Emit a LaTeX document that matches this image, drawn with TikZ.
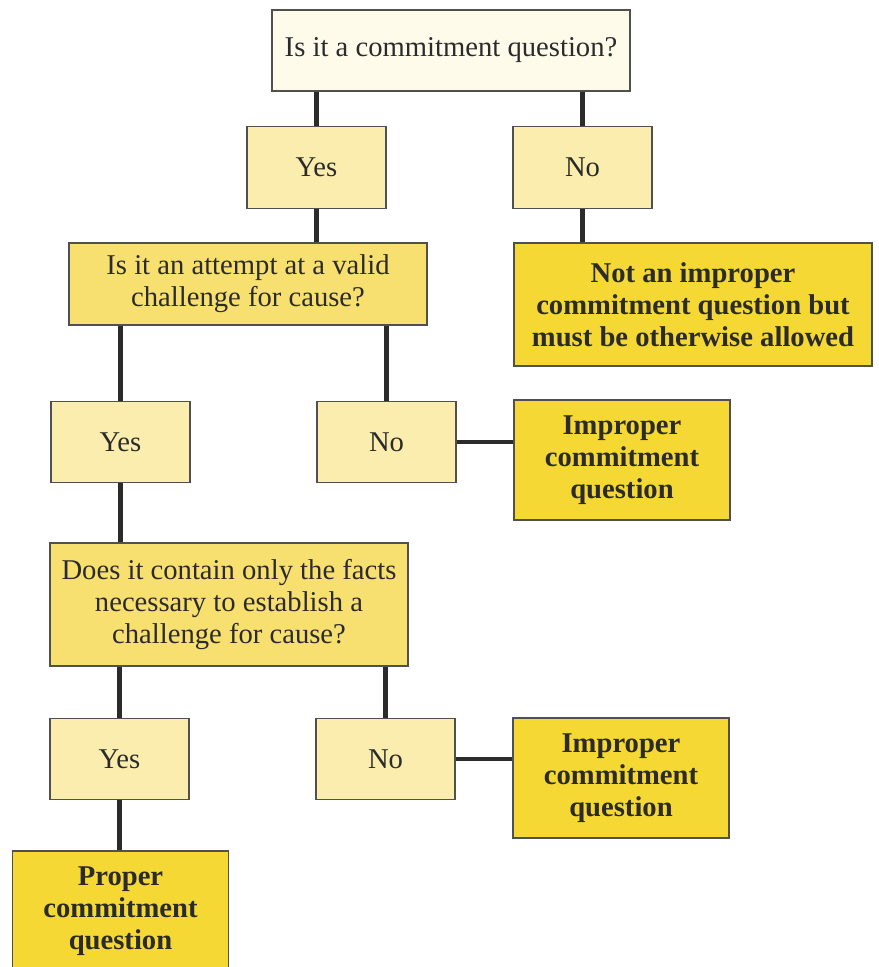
\documentclass[tikz,border=0pt]{standalone}
\usepackage{fontspec}
\setmainfont{Liberation Serif}
\definecolor{ink}{RGB}{43, 43, 43}
\definecolor{frame}{RGB}{80, 80, 80}
\definecolor{cream}{RGB}{255, 251, 234}
\definecolor{pale}{RGB}{251, 237, 173}
\definecolor{quest}{RGB}{248, 224, 112}
\definecolor{verdict}{RGB}{245, 216, 51}
\usetikzlibrary{positioning, calc}

\begin{document}
\begin{tikzpicture}[
        every node/.style={font=\fontsize{16.3}{18.2}\selectfont, text=ink, align=center},
        box/.style={rectangle, draw=frame, line width=0.7pt, inner sep=2pt},
        start/.style={box, fill=cream, minimum width=7.16cm, minimum height=1.62cm},
        answer/.style={box, fill=pale, minimum width=2.78cm, minimum height=1.63cm},
        ask/.style={box, fill=quest, minimum width=7.16cm},
        verdict/.style={box, fill=verdict, minimum width=4.32cm, minimum height=2.4cm, font=\fontsize{16.3}{18.2}\selectfont\bfseries},
        link/.style={line width=2.8pt, draw=ink}
    ]
        \useasboundingbox (0,0) rectangle (17.58,-19.34);
        \clip (0,0) rectangle (17.58,-19.34);

        \node[start]  (top)  at (9.02, -1.01)  {Is it a commitment question?};
        \node[answer] (yesA) at (6.33, -3.35)  {Yes};
        \node[answer] (noA)  at (11.65, -3.35) {No};

        \node[ask, minimum height=1.64cm] (askB) at (4.96, -5.68) {Is it an attempt at a valid\\ challenge for cause?};
        \node[verdict, minimum width=7.16cm, minimum height=2.46cm] (endA) at (13.86, -6.09) {Not an improper\\ commitment question but\\ must be otherwise allowed};

        \node[answer]  (yesB) at (2.41, -8.84)  {Yes};
        \node[answer]  (noB)  at (7.73, -8.84)  {No};
        \node[verdict] (endB) at (12.44, -9.20) {Improper\\ commitment\\ question};

        \node[ask, minimum height=2.46cm] (askC) at (4.58, -12.09) {Does it contain only the facts\\ necessary to establish a\\ challenge for cause?};

        \node[answer]  (yesC) at (2.39, -15.18) {Yes};
        \node[answer]  (noC)  at (7.71, -15.18) {No};
        \node[verdict] (endC) at (12.42, -15.56) {Improper\\ commitment\\ question};

        \node[verdict] (endD) at (2.41, -18.22) {Proper\\ commitment\\ question};

        \draw[link] (yesA.north) -- (yesA.north |- top.south);
        \draw[link] (noA.north)  -- (noA.north |- top.south);
        \draw[link] (yesA.south) -- (yesA.south |- askB.north);
        \draw[link] (noA.south)  -- (noA.south |- endA.north);
        \draw[link] (yesB.north) -- (yesB.north |- askB.south);
        \draw[link] (noB.north)  -- (noB.north |- askB.south);
        \draw[link] (noB.east)   -- (noB.east -| endB.west);
        \draw[link] (yesB.south) -- (yesB.south |- askC.north);
        \draw[link] (yesC.north) -- (yesC.north |- askC.south);
        \draw[link] (noC.north)  -- (noC.north |- askC.south);
        \draw[link] (noC.east)   -- (noC.east -| endC.west);
        \draw[link] (yesC.south) -- (yesC.south |- endD.north);
    \end{tikzpicture}
\end{document}
